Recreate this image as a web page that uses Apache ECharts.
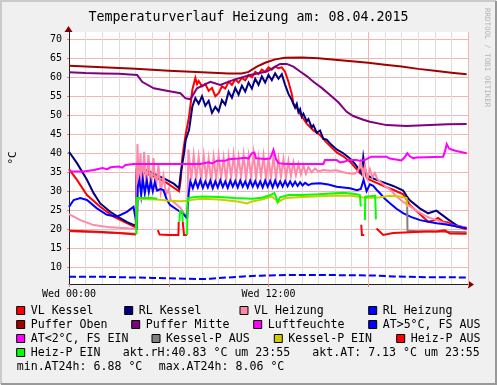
<!DOCTYPE html>
<html><head><meta charset="utf-8">
<script src="https://cdn.jsdelivr.net/npm/echarts@6/dist/echarts.min.js"></script>
<style>html,body{margin:0;padding:0;background:#f0f0f0}#c{width:497px;height:385px}</style>
</head><body><div id="c"></div>
<script>
// ---------- data (hours since Wed 00:00, °C) ----------
const titleText = 'Temperaturverlauf Heizung am: 08.04.2015';
const xLabels = {0: 'Wed 00:00', 12: 'Wed 12:00'};
const yTicks = [10, 15, 20, 25, 30, 35, 40, 45, 50, 55, 60, 65, 70];

const vlKessel = [[0,35.8],[0.48,33.0],[1.08,29.0],[1.88,25.9],[2.68,23.3],[3.48,21.6],[4.02,20.5],[4.08,35.6],[5.08,33.9],[5.88,32.2],[6.62,30.0],[6.72,33.0],[6.82,39.1],[7.02,45.0],[7.22,49.6],[7.42,56.7],[7.6,59.8],[7.7,58.2],[7.8,59.0],[8.0,57.6],[8.2,58.2],[8.4,56.4],[8.6,57.2],[8.8,55.0],[9.0,55.8],[9.2,57.6],[9.4,57.0],[9.6,58.8],[9.8,58.0],[10.0,59.4],[10.2,58.6],[10.4,59.8],[10.6,59.2],[10.8,60.6],[11.0,60.0],[11.2,61.4],[11.4,60.8],[11.6,62.0],[11.8,61.4],[12.0,62.6],[12.2,62.0],[12.4,62.8],[12.6,62.4],[12.8,62.6],[13.0,61.4],[13.2,58.8],[13.4,55.6],[13.5,53.0],[13.7,52.0],[13.9,50.4],[14.3,47.8],[14.7,46.0],[15.1,44.8],[15.5,42.8],[16.1,40.2],[16.5,39.2],[16.9,37.8],[17.5,34.8],[17.7,37.5],[17.9,33.6],[18.1,33.0],[18.5,32.2],[19.0,31.2],[19.5,30.4],[20.1,29.2],[20.5,26.4],[21.1,24.0],[21.6,22.0],[22.0,22.4],[22.2,23.0],[22.5,22.0],[22.8,21.8],[23.3,20.7],[23.92,20.0]];

const rlKessel = [[0,40.4],[0.48,37.4],[1.08,33.0],[1.48,29.5],[1.88,26.8],[2.48,24.6],[3.08,22.9],[3.5,21.9],[4.02,20.9],[4.08,36.5],[4.5,35.8],[5.08,34.7],[5.5,33.8],[5.88,33.0],[6.3,32.0],[6.62,30.8],[6.72,34.7],[6.92,40.0],[7.02,43.5],[7.22,46.1],[7.42,52.3],[7.6,54.5],[7.8,53.0],[8.0,55.0],[8.2,52.5],[8.4,53.8],[8.6,50.6],[8.8,52.2],[9.0,51.0],[9.2,54.0],[9.4,52.8],[9.6,56.2],[9.8,54.6],[10.0,57.2],[10.2,55.4],[10.4,57.8],[10.6,56.2],[10.8,58.6],[11.0,57.0],[11.2,59.6],[11.4,58.0],[11.6,60.2],[11.8,58.6],[12.0,60.6],[12.2,59.2],[12.4,61.0],[12.6,59.6],[12.8,60.8],[13.0,58.0],[13.2,55.6],[13.4,54.0],[13.5,53.8],[13.6,52.0],[13.7,53.0],[13.8,50.8],[13.9,51.6],[14.0,49.6],[14.1,50.4],[14.3,48.4],[14.4,49.0],[14.6,46.8],[14.7,47.4],[14.9,45.4],[15.1,46.0],[15.3,43.8],[15.5,43.6],[15.7,42.6],[16.1,41.0],[16.5,40.0],[16.9,38.6],[17.2,37.2],[17.5,35.4],[17.6,34.6],[17.7,39.0],[17.8,36.0],[17.9,34.4],[18.1,33.8],[18.5,33.0],[19.0,32.2],[19.5,31.4],[20.1,30.2],[20.3,28.8],[20.5,27.6],[21.1,25.5],[21.6,24.2],[22.1,24.9],[22.5,23.6],[22.8,22.6],[23.3,21.1],[23.92,20.3]];

const vlHeizung = [[0,24.0],[0.68,22.4],[1.48,21.1],[2.48,20.5],[3.48,20.3],[4.02,20.0],[4.08,20.0],[4.12,42.4],[4.2,31.0],[4.3,40.0],[4.4,30.8],[4.52,40.4],[4.64,31.0],[4.78,39.5],[4.92,30.6],[5.08,38.7],[5.22,30.2],[5.38,36.9],[5.52,29.8],[5.68,34.0],[5.84,29.2],[6.0,30.6],[6.12,27.7],[6.4,26.8],[6.7,25.6],[6.95,24.0],[7.12,23.4],[7.18,41.0],[7.35,33.0],[7.5,39.5],[7.65,33.2],[7.8,39.0],[7.95,33.0],[8.1,39.4],[8.25,33.4],[8.4,38.6],[8.55,32.6],[8.7,39.0],[8.85,33.2],[9.0,39.4],[9.15,33.6],[9.3,38.8],[9.45,33.0],[9.6,39.2],[9.75,33.6],[9.9,39.6],[10.05,33.4],[10.2,39.0],[10.35,33.8],[10.5,39.6],[10.65,33.2],[10.8,39.2],[10.95,33.8],[11.1,40.0],[11.25,33.4],[11.4,39.0],[11.55,33.8],[11.7,39.4],[11.85,33.2],[12.0,38.8],[12.15,33.6],[12.3,39.2],[12.45,33.4],[12.6,38.6],[12.75,33.8],[12.9,38.4],[13.05,33.6],[13.2,38.0],[13.35,34.0],[13.5,37.6],[13.65,34.2],[13.8,37.2],[13.95,34.4],[14.1,36.8],[14.25,34.6],[14.4,36.4],[14.6,35.0],[14.8,36.0],[15.0,35.2],[15.3,35.6],[15.7,35.4],[16.1,35.5],[16.5,35.0],[16.9,34.7],[17.2,34.6],[17.4,35.5],[17.55,37.8],[17.7,34.0],[17.8,36.6],[17.95,33.4],[18.1,35.8],[18.25,33.6],[18.4,34.8],[18.55,33.2],[18.72,32.5],[19.0,31.4],[19.32,30.4],[19.72,28.6],[20.1,27.2],[20.52,26.0],[20.9,24.9],[21.32,23.8],[21.7,23.0],[22.12,22.4],[22.5,21.8],[22.92,21.1],[23.4,20.8],[23.92,20.5]];

const rlHeizung = [[0,25.9],[0.28,27.7],[0.68,28.2],[1.08,27.7],[1.68,25.5],[2.28,23.8],[2.88,23.3],[3.48,24.6],[3.88,25.9],[4.02,22.4],[4.08,19.8],[4.14,31.2],[4.24,33.0],[4.34,29.0],[4.44,33.2],[4.56,29.5],[4.68,32.8],[4.8,29.8],[4.92,32.6],[5.04,30.0],[5.16,32.4],[5.3,30.2],[5.5,30.6],[5.68,30.3],[5.88,27.8],[6.08,26.4],[6.48,25.2],[6.7,24.6],[6.92,23.8],[7.1,22.9],[7.2,29.5],[7.3,32.6],[7.45,30.8],[7.6,32.8],[7.75,31.0],[7.9,32.9],[8.05,30.9],[8.2,32.6],[8.35,31.0],[8.5,32.8],[8.65,30.8],[8.8,32.6],[8.95,31.0],[9.1,32.9],[9.25,31.1],[9.4,32.6],[9.55,30.9],[9.7,32.8],[9.85,31.2],[10.0,32.7],[10.15,31.0],[10.3,32.8],[10.45,31.2],[10.6,32.6],[10.75,31.0],[10.9,32.8],[11.05,31.2],[11.2,32.7],[11.35,31.1],[11.5,32.6],[11.65,31.0],[11.8,32.8],[11.95,31.2],[12.1,32.7],[12.25,31.0],[12.4,32.8],[12.55,31.2],[12.7,32.6],[12.85,31.2],[13.0,32.7],[13.15,31.3],[13.3,32.6],[13.45,31.4],[13.6,32.5],[13.75,31.4],[13.9,32.4],[14.05,31.5],[14.2,32.2],[14.4,31.6],[14.6,32.0],[15.1,32.1],[15.6,31.8],[16.1,31.2],[16.5,31.0],[16.9,30.8],[17.32,30.3],[17.55,30.6],[17.72,33.0],[17.9,30.0],[18.1,31.8],[18.3,31.4],[18.5,30.4],[18.72,29.4],[19.0,28.0],[19.32,26.8],[19.7,25.4],[20.12,24.2],[20.6,23.2],[21.12,22.4],[21.6,22.0],[22.12,21.6],[22.6,21.3],[23.12,20.9],[23.5,20.6],[23.92,20.3]];

const pufferOben = [[0,63.0],[2,62.6],[4,62.2],[6,61.7],[8,61.3],[9.6,61.0],[10.4,61.0],[10.8,61.4],[11.3,62.8],[11.8,63.8],[12.4,64.7],[13.0,65.1],[14,65.2],[15,65.0],[16,64.6],[17,64.2],[18,63.8],[19,63.3],[20,62.8],[21,62.2],[22,61.7],[23,61.2],[23.92,60.8]];

const pufferMitte = [[0,61.3],[1,61.1],[2,61.0],[3,60.9],[4.1,60.6],[4.4,58.8],[5.1,57.1],[5.8,56.5],[6.7,55.8],[7.0,54.5],[7.3,54.2],[7.7,57.1],[8.5,58.8],[9.1,58.0],[9.9,59.3],[10.9,60.6],[11.9,61.5],[12.4,62.8],[12.7,63.5],[13.1,63.5],[13.5,62.8],[13.9,61.5],[14.3,60.3],[14.7,58.8],[15.2,57.2],[15.7,55.3],[16.2,53.4],[16.7,50.9],[17.1,49.8],[17.7,48.8],[18.1,48.3],[19.1,47.4],[20.3,47.2],[21.7,47.4],[22.8,47.6],[23.92,47.7]];

const luftfeuchte = [[0,35.2],[0.9,35.2],[1.0,35.6],[1.5,35.6],[1.6,36.0],[2.0,36.1],[2.3,35.8],[2.5,36.3],[3.0,36.5],[3.2,36.2],[3.4,36.9],[3.9,37.2],[7.9,37.2],[8.0,37.6],[8.4,37.6],[8.6,37.3],[8.9,38.0],[9.4,38.0],[9.6,38.4],[10.2,38.6],[10.6,38.8],[10.8,38.6],[11.0,40.0],[11.15,40.2],[11.25,38.7],[11.8,38.5],[12.1,38.6],[12.3,40.9],[12.45,38.4],[12.6,37.4],[13.0,37.2],[15.3,37.2],[15.4,38.2],[16.1,38.2],[16.3,37.6],[16.6,37.8],[16.8,38.2],[17.3,38.2],[17.5,38.0],[17.8,38.2],[18.0,38.7],[18.2,39.1],[19.1,39.1],[19.3,38.6],[20.0,38.1],[20.2,39.0],[20.35,40.0],[20.5,39.2],[20.7,38.7],[20.9,38.9],[22.5,39.1],[22.6,40.2],[22.72,42.4],[22.85,41.3],[23.0,41.0],[23.3,40.6],[23.5,40.4],[23.92,40.0]];

const atWarm = [[0,7.5],[1,7.5],[2,7.5],[3,7.4],[4,7.3],[5,7.2],[6,7.1],[7,7.0],[8,6.9],[8.5,7.0],[9.5,7.3],[10.5,7.6],[11.5,7.8],[12.5,7.9],[13.5,8.0],[14.5,8.0],[15.5,8.0],[16.5,7.9],[17.5,7.9],[18.5,7.8],[19.5,7.6],[20.5,7.5],[21.5,7.4],[22.5,7.4],[23.92,7.3]];
const atCold = [];

const kesselAus = [[0,19.5],[4.03,18.8],[4.04,'-'],[20.34,26.0],[20.36,19.6],[21,19.5],[22,19.4],[23.92,19.2]];
const kesselEin = [[4.05,18.8],[4.08,28.0],[5.3,27.8],[6.0,27.5],[6.7,27.4],[7.1,27.5],[7.5,27.8],[8,28.0],[9,27.8],[10,27.4],[10.5,27.0],[10.7,26.8],[11,27.3],[11.6,27.8],[12.2,28.6],[12.45,27.8],[12.55,27.0],[12.75,27.6],[13,28.2],[14,28.5],[15,28.7],[16,28.9],[17,28.8],[17.6,28.4],[18.0,28.2],[18.72,28.4],[19.32,28.8],[19.9,28.6],[20.3,28.2],[20.32,26.0]];
const heizAus = [[0,19.6],[1,19.5],[2,19.3],[3,19.0],[4.03,18.6],[4.04,'-'],[5.34,19.8],[5.45,18.6],[6.0,18.5],[6.58,18.5],[6.6,22.0],[6.64,22.0],[6.66,'-'],[6.84,22.0],[6.88,22.4],[6.92,18.5],[7.1,18.5],[7.12,'-'],[17.58,21.2],[17.62,18.5],[17.76,18.5],[17.78,'-'],[18.5,20.2],[18.9,18.5],[19.5,19.0],[20.5,19.2],[21.5,19.4],[22.1,19.4],[22.6,19.7],[22.9,18.9],[23.92,18.8]];
const heizEin = [[4.05,18.6],[4.08,28.2],[5.0,28.2],[5.3,28.0],[5.32,'-'],[6.64,22.0],[6.68,24.8],[6.82,24.6],[6.84,22.0],[6.86,'-'],[7.1,18.5],[7.14,28.2],[7.5,28.4],[8,28.6],[9,28.5],[10,28.2],[11,28.0],[11.6,28.3],[12.0,28.8],[12.2,29.2],[12.35,29.5],[12.45,28.6],[12.55,27.2],[12.7,28.4],[13.2,29.0],[14,29.0],[15,29.2],[16,29.5],[16.5,29.6],[17.2,29.3],[17.5,29.0],[17.55,26.0],[17.57,'-'],[17.8,22.4],[17.82,28.6],[18.42,28.8],[18.46,22.6]];

const seriesNames = ['VL Kessel','RL Kessel','VL Heizung','RL Heizung','Puffer Oben','Puffer Mitte','Luftfeuchte','AT>5°C, FS AUS','AT<2°C, FS EIN','Kessel-P AUS','Kessel-P EIN','Heiz-P AUS','Heiz-P EIN'];
const seriesColors = ['#ff0000','#000080','#ff88aa','#0000ff','#a00000','#800080','#ff00ff','#0000ff','#ff00ff','#808080','#cccc00','#ff0000','#00ff00'];
const seriesData = [vlKessel, rlKessel, vlHeizung, rlHeizung, pufferOben, pufferMitte, luftfeuchte, atWarm, atCold, kesselAus, kesselEin, heizAus, heizEin];

const aktRH = 40.83, aktAT = 7.13, aktTime = '23:55', minAT24 = 6.88, maxAT24 = 8.06;

// ---------- layout ----------
const MONO = '"DejaVu Sans Mono", monospace';
const G = {left: 68, right: 29, top: 32, bottom: 101};
const legTextX = [30.7,138.7,254,382.7, 30.7,145.7,267.7,382.7, 30.7,166,288.3,410.7, 30.7];
const legRowY = [311,311,311,311, 325,325,325,325, 339,339,339,339, 353];

const chart = echarts.init(document.getElementById('c'), null, {renderer: 'canvas'});

const series = seriesData.map((d, i) => ({
  type: 'line', name: seriesNames[i], data: d, symbol: 'none', showSymbol: false,
  connectNulls: false, animation: false, silent: true,
  lineStyle: {color: seriesColors[i], width: 2, type: i === 7 ? [7, 3] : 'solid', cap: 'butt', join: 'miter'},
  itemStyle: {color: seriesColors[i]}
}));

const graphics = [];
// frame shading
graphics.push({type: 'polyline', shape: {points: [[1, 384], [1, 1], [496, 1]]}, style: {stroke: '#cbcbcb', lineWidth: 2, fill: null}});
graphics.push({type: 'polyline', shape: {points: [[1, 384], [496, 384], [496, 1]]}, style: {stroke: '#999999', lineWidth: 2, fill: null}});
// axis arrows
const px = 497 - G.right, py = 385 - G.bottom;
graphics.push({type: 'polygon', shape: {points: [[px, py - 3.5], [px + 6, py + 0.5], [px, py + 4.5]]}, style: {fill: '#7f0000'}});
graphics.push({type: 'polygon', shape: {points: [[G.left - 3.5, G.top], [G.left + 0.5, G.top - 6], [G.left + 4.5, G.top]]}, style: {fill: '#7f0000'}});
// watermark
graphics.push({type: 'text', x: 487, y: 8, rotation: -Math.PI / 2,
  style: {text: 'RRDTOOL / TOBI OETIKER', fill: '#b4b4b4', font: '7.5px ' + MONO, align: 'left', verticalAlign: 'middle', textAlign: 'left', textVerticalAlign: 'middle'}});
// legend
seriesNames.forEach((n, i) => {
  const tx = legTextX[i], ty = legRowY[i];
  graphics.push({type: 'rect', shape: {x: tx - 14.5 + 0.5, y: ty - 4.5, width: 8, height: 8}, style: {fill: seriesColors[i], stroke: '#000', lineWidth: 1}});
  graphics.push({type: 'text', x: tx, y: ty, style: {text: n, fill: '#000', font: '11.6px ' + MONO, align: 'left', verticalAlign: 'middle', textAlign: 'left', textVerticalAlign: 'middle'}});
});
const extraTexts = [
  [122.7, 353, 'akt.rH:' + aktRH.toFixed(2) + ' °C um ' + aktTime],
  [312.3, 353, 'akt.AT: ' + aktAT.toFixed(2) + ' °C um ' + aktTime],
  [16.7, 367, 'min.AT24h: ' + minAT24.toFixed(2) + ' °C'],
  [158.7, 367, 'max.AT24h: ' + maxAT24.toFixed(2) + ' °C']
];
extraTexts.forEach(t => graphics.push({type: 'text', x: t[0], y: t[1], style: {text: t[2], fill: '#000', font: '11.6px ' + MONO, align: 'left', verticalAlign: 'middle', textAlign: 'left', textVerticalAlign: 'middle'}}));

chart.setOption({
  animation: false,
  backgroundColor: '#f0f0f0',
  title: {text: titleText, left: 'center', top: 6, textStyle: {fontFamily: MONO, fontSize: 13.3, fontWeight: 'normal', color: '#000'}},
  grid: {left: G.left, right: G.right, top: G.top, bottom: G.bottom, show: true, backgroundColor: '#ffffff', borderWidth: 0, containLabel: false},
  xAxis: {
    type: 'value', min: 0, max: 24, interval: 6,
    axisLine: {show: true, onZero: false, lineStyle: {color: '#222222', width: 1}},
    axisTick: {show: true, length: 3, lineStyle: {color: '#e08080'}},
    axisLabel: {formatter: v => xLabels[v] || '', fontFamily: MONO, fontSize: 10, color: '#000', margin: 5, showMinLabel: true, showMaxLabel: true},
    splitLine: {show: true, lineStyle: {color: '#f4b4b4', width: 1}},
    minorTick: {show: false, splitNumber: 6},
    minorSplitLine: {show: true, lineStyle: {color: '#dedede', width: 1}}
  },
  yAxis: {
    type: 'value', min: 5.6, max: 71.9,
    name: '°C', nameLocation: 'middle', nameGap: 50, nameRotate: 90,
    nameTextStyle: {fontFamily: MONO, fontSize: 11, color: '#000'},
    axisLine: {show: true, onZero: false, lineStyle: {color: '#222222', width: 1}},
    axisTick: {show: true, length: 2, customValues: yTicks, lineStyle: {color: '#e08080'}},
    axisLabel: {customValues: yTicks, fontFamily: MONO, fontSize: 10, color: '#000', margin: 7},
    splitLine: {show: true, lineStyle: {color: '#f4b4b4', width: 1}}
  },
  series: series,
  graphic: {elements: graphics}
});
</script></body></html>
